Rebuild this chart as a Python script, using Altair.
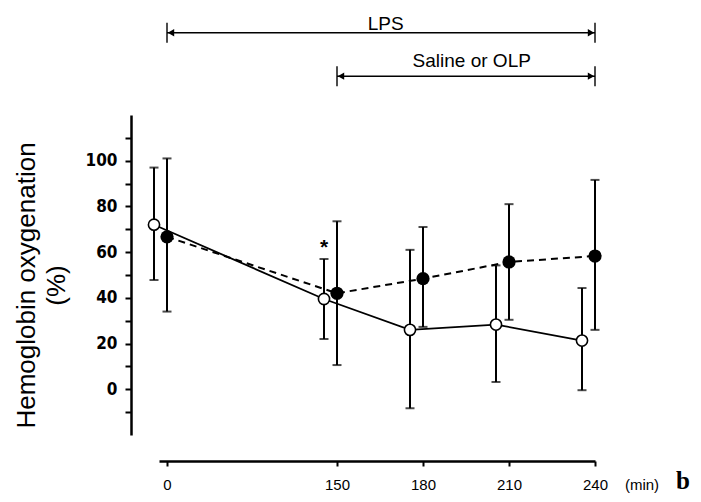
import altair as alt
import pandas as pd

# ---- data ----
times = [0, 150, 180, 210, 240]
x_tick_labels = ["0", "150", "180", "210", "240"]

# open circles (solid line)
open_mean = [72, 39.5, 26, 28.3, 21.3]
open_low = [47.8, 22, -8.3, 3.2, -0.4]
open_high = [97, 57, 61, 54.2, 44.3]

# filled circles (dashed line)
filled_mean = [66.7, 42, 48.4, 55.7, 58.3]
filled_low = [34, 10.6, 27.3, 30.4, 26]
filled_high = [101, 73.5, 71, 81, 91.6]

y_tick_values = [-10, 0, 10, 20, 30, 40, 50, 60, 70, 80, 90, 100, 110]
y_tick_labels = [0, 20, 40, 60, 80, 100]

# treatment spans (top annotations)
span_start = [0, 150]
span_end = [240, 240]
span_label = ["LPS", "Saline or OLP"]
span_level = [156, 137]
span_label_x = [167, 197]
span_label_y = [160, 143.5]

star_time = [150]
star_value = [open_high[1]]

# ---- tables ----
df_open = pd.DataFrame({"time": times, "mean": open_mean, "low": open_low, "high": open_high})
df_filled = pd.DataFrame({"time": times, "mean": filled_mean, "low": filled_low, "high": filled_high})
df_open_caps = pd.DataFrame({"time": times * 2, "mean": open_low + open_high})
df_filled_caps = pd.DataFrame({"time": times * 2, "mean": filled_low + filled_high})
df_span = pd.DataFrame({"start": span_start, "end": span_end, "label": span_label,
                        "level": span_level, "lx": span_label_x, "ly": span_label_y})
df_star = pd.DataFrame({"time": star_time, "mean": star_value})

OFF = -13  # open series drawn slightly left of the filled series

xscale = alt.Scale(domain=[-7, 0, 150, 240], range=[28, 36, 206, 464])
yscale = alt.Scale(domain=[-20, 120], nice=False, zero=False)

label_map = "{" + ",".join(f"'{t}':'{l}'" for t, l in zip(times, x_tick_labels)) + "}"
xaxis = alt.Axis(values=times, offset=26, tickSize=5, tickWidth=2, domainWidth=2.5,
                 domainColor="black", tickColor="black", labelColor="black",
                 labelFont="Liberation Sans", labelFontSize=15, labelPadding=11,
                 labelFlush=False, grid=False, title=None,
                 labelExpr=label_map + "[datum.value + '']")
yaxis = alt.Axis(values=y_tick_values,
                 labelExpr="indexof(" + str(y_tick_labels) + ", datum.value) >= 0 ? datum.label : ''",
                 tickSize=6, tickWidth=2, domainWidth=2.5, domainColor="black",
                 tickColor="black", labelColor="black",
                 labelFont="Liberation Sans Narrow, DejaVu Sans Condensed", labelFontSize=17,
                 labelFontWeight="bold", labelPadding=8, grid=False,
                 title=["Hemoglobin oxygenation", "(%)"], titleFont="Liberation Sans",
                 titleFontSize=26, titleFontWeight="normal", titleColor="black",
                 titleAngle=270, titleX=-97, titleY=170, titleAlign="center",
                 titleBaseline="alphabetic", titleLineHeight=30)

def X(field):
    return alt.X(f"{field}:Q", scale=xscale, axis=xaxis)

def Y(field):
    return alt.Y(f"{field}:Q", scale=yscale, axis=yaxis)

solid = alt.Chart(df_open).mark_line(color="black", strokeWidth=1.8, xOffset=OFF).encode(
    x=X("time"), y=Y("mean"))
dashed = alt.Chart(df_filled).mark_line(color="black", strokeWidth=2, strokeDash=[7, 5]).encode(
    x=X("time"), y=Y("mean"))

open_bars = alt.Chart(df_open).mark_rule(color="black", strokeWidth=2, xOffset=OFF).encode(
    x=X("time"), y=Y("low"), y2="high:Q")
filled_bars = alt.Chart(df_filled).mark_rule(color="black", strokeWidth=2).encode(
    x=X("time"), y=Y("low"), y2="high:Q")
open_caps = alt.Chart(df_open_caps).mark_tick(color="black", orient="horizontal", size=9,
                                               thickness=2, xOffset=OFF).encode(
    x=X("time"), y=Y("mean"))
filled_caps = alt.Chart(df_filled_caps).mark_tick(color="black", orient="horizontal", size=9,
                                                   thickness=2).encode(
    x=X("time"), y=Y("mean"))

open_pts = alt.Chart(df_open).mark_point(shape="circle", filled=True, fill="white", stroke="black",
                                         strokeWidth=1.6, size=125, opacity=1, xOffset=OFF).encode(
    x=X("time"), y=Y("mean"))
filled_pts = alt.Chart(df_filled).mark_point(shape="circle", filled=True, color="black",
                                             size=175, opacity=1).encode(
    x=X("time"), y=Y("mean"))

star = alt.Chart(df_star).mark_text(text="*", font="Liberation Sans", fontSize=21, color="black",
                                    fontWeight="bold", xOffset=OFF, dy=-11, baseline="middle").encode(
    x=X("time"), y=Y("mean"))

span_line = alt.Chart(df_span).mark_rule(color="black", strokeWidth=1.5).encode(
    x=X("start"), x2="end:Q", y=Y("level"))
span_bar_l = alt.Chart(df_span).mark_tick(color="black", orient="vertical", size=20, thickness=2).encode(
    x=X("start"), y=Y("level"))
span_bar_r = alt.Chart(df_span).mark_tick(color="black", orient="vertical", size=20, thickness=2).encode(
    x=X("end"), y=Y("level"))
span_head_l = alt.Chart(df_span).mark_point(shape="triangle-left", filled=True, color="black",
                                            size=55, opacity=1, xOffset=4).encode(
    x=X("start"), y=Y("level"))
span_head_r = alt.Chart(df_span).mark_point(shape="triangle-right", filled=True, color="black",
                                            size=55, opacity=1, xOffset=-4).encode(
    x=X("end"), y=Y("level"))
span_text = alt.Chart(df_span).mark_text(font="Liberation Sans", fontSize=19, color="black",
                                         baseline="middle", align="center").encode(
    x=X("lx"), y=Y("ly"), text="label:N")

min_text = alt.Chart(pd.DataFrame({"t": ["(min)"]})).mark_text(
    font="Liberation Sans", fontSize=15, color="black", baseline="alphabetic", align="center").encode(
    x=alt.value(511), y=alt.value(375), text="t:N")
b_text = alt.Chart(pd.DataFrame({"t": ["b"]})).mark_text(
    font="Liberation Serif", fontSize=25, fontWeight="bold", color="black",
    baseline="alphabetic", align="center").encode(
    x=alt.value(552), y=alt.value(374), text="t:N")

chart = alt.layer(
    solid, dashed, open_bars, filled_bars, open_caps, filled_caps, open_pts, filled_pts, star,
    span_line, span_bar_l, span_bar_r, span_head_l, span_head_r, span_text, min_text, b_text
).properties(
    width=470, height=320,
    autosize=alt.AutoSizeParams(type="none"),
    padding={"left": 123, "top": 107, "right": 92, "bottom": 59},
    background="white",
).configure_view(strokeWidth=0)

chart.save("out.html", embed_options={"renderer": "svg", "actions": False})
